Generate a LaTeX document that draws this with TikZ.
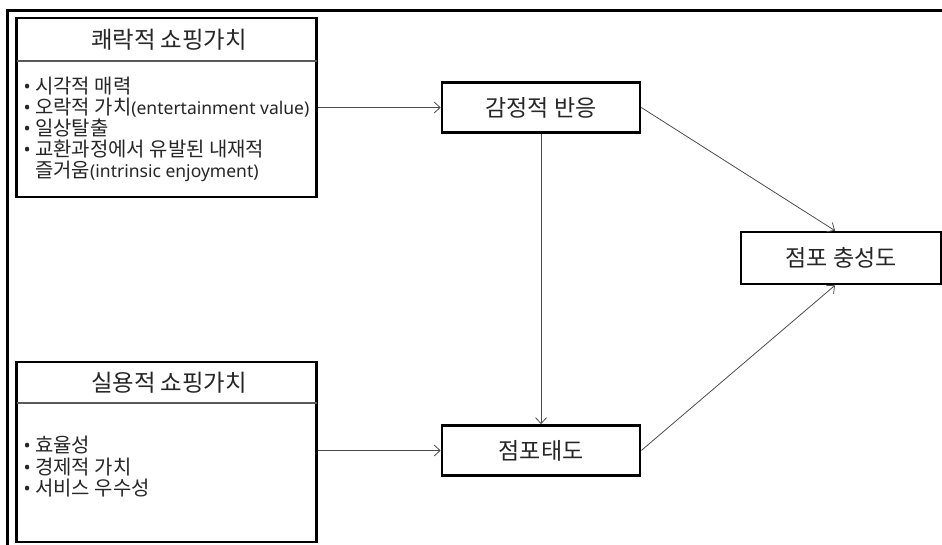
\documentclass[tikz,border=0pt]{standalone}
\usepackage{fontspec}
\setmainfont{Noto Sans CJK KR}
\newfontfamily\latf{Noto Sans}
\usetikzlibrary{arrows.meta}
\newlength\mymw
\newcommand\myfit[4]{\pgfinterruptpicture\settowidth\mymw{#2\fontsize{10}{12}\selectfont #3}\global\mymw=\mymw\endpgfinterruptpicture\pgfmathsetmacro#1{10*#4/\mymw}}
\begin{document}
\begin{tikzpicture}[x=1pt,y=-1pt,
  bigbox/.style={draw=black, line width=2.6pt, fill=white, inner sep=0pt},
  smallbox/.style={draw=black, line width=2.6pt, fill=white, inner sep=0pt,
    minimum width=198pt, minimum height=50pt, font=\fontsize{\bxsz}{26}\selectfont, text=black!85},
  headtxt/.style={font=\fontsize{\hdsz}{24}\selectfont, text=black!85, inner sep=0pt},
  listtxt/.style={font=\fontsize{\lisz}{21}\selectfont, text=black!85, inner sep=0pt, anchor=base west},
  divider/.style={draw=black!65, line width=1.2pt},
  conn/.style={draw=black!70, line width=0.8pt, -{Straight Barb[length=6pt,width=11pt]}}
]
\myfit{\hdsz}{}{쾌락적 쇼핑가치}{156}
\myfit{\bxsz}{}{감정적 반응}{111}
\myfit{\lisz}{}{교환과정에서 유발된 내재적}{229}
\myfit{\ltsz}{\latf}{(entertainment value)}{178}
\def\lt#1{{\latf\fontsize{\ltsz}{21}\selectfont #1}}
\def\bl{\makebox[11.5pt][l]{{\latf\fontsize{19}{21}\selectfont •}}}
\useasboundingbox (0,0) rectangle (942,544);
% outer frame
\draw[line width=3pt] (942,10) -- (7,10) -- (7,546);

% hedonic box
\node[bigbox, minimum width=300pt, minimum height=179pt] (hed) at (166.5,107.5) {};
\coordinate (hdl) at (16.5,61);
\coordinate (hdr) at (316.5,61);
\draw[divider] (hdl) -- (hdr);
\node[headtxt] (hedh) at (169,40) {쾌락적 쇼핑가치};
\node[listtxt] (h1) at (23.5,93) {\bl 시각적 매력};
\node[listtxt] (h2) at (23.5,114) {\bl 오락적 가치\lt{(entertainment value)}};
\node[listtxt] (h3) at (23.5,135) {\bl 일상탈출};
\node[listtxt] (h4) at (23.5,156) {\bl 교환과정에서 유발된 내재적};
\node[listtxt] (h5) at (35,177) {즐거움\lt{(intrinsic enjoyment)}};

% utilitarian box
\node[bigbox, minimum width=300pt, minimum height=180pt] (uti) at (166.5,452) {};
\coordinate (udl) at (16.5,403);
\coordinate (udr) at (316.5,403);
\draw[divider] (udl) -- (udr);
\node[headtxt] (utih) at (169,383) {실용적 쇼핑가치};
\node[listtxt] (u1) at (23.5,452.5) {\bl 효율성};
\node[listtxt] (u2) at (23.5,474) {\bl 경제적 가치};
\node[listtxt] (u3) at (23.5,495.5) {\bl 서비스 우수성};

% small boxes
\node[smallbox] (emo) at (541,107.5) {감정적 반응};
\node[smallbox] (att) at (541,450.5) {점포태도};
\node[smallbox, minimum width=200pt, minimum height=52pt] (loy) at (841,258) {점포 충성도};

% connectors
\draw[conn] (hed.east |- emo.west) -- (emo.west);
\draw[conn] (uti.east |- att.west) -- (att.west);
\draw[conn] (emo.south) -- (att.north);
\draw[conn] (emo.east) -- ([xshift=-6pt]loy.north);
\draw[conn] (att.east) -- ([xshift=-6pt]loy.south);
\end{tikzpicture}
\end{document}
